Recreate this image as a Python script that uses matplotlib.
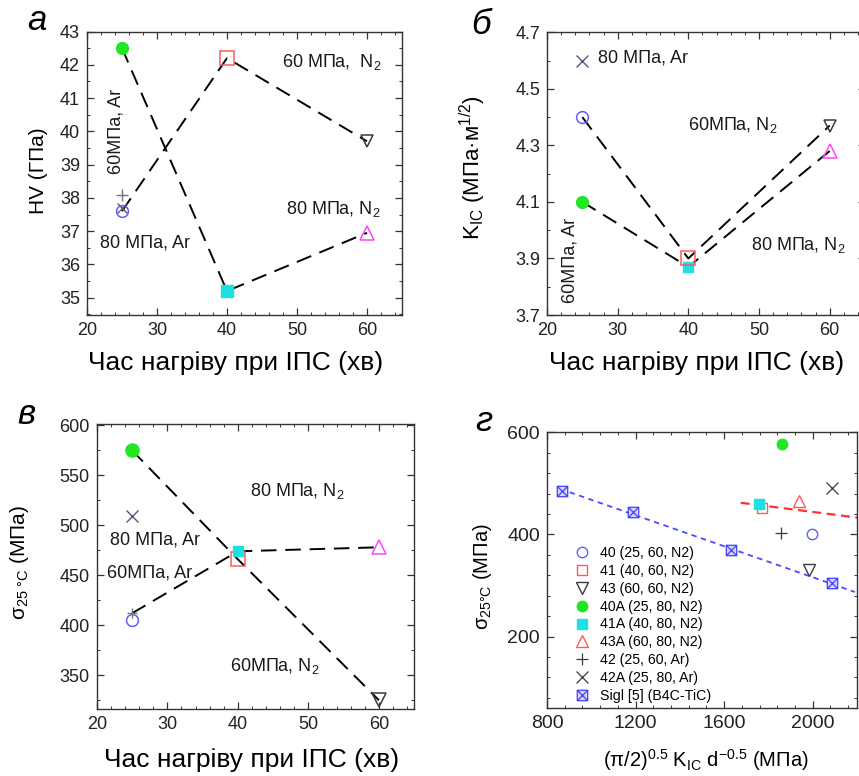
import matplotlib
matplotlib.use("Agg")
import matplotlib.pyplot as plt
import matplotlib.path as mpath
import numpy as np
from matplotlib.ticker import MultipleLocator, AutoMinorLocator, FixedLocator

plt.rcParams['font.family'] = ['Liberation Sans', 'DejaVu Sans']
plt.rcParams['mathtext.fontset'] = 'custom'
plt.rcParams['mathtext.rm'] = 'Liberation Sans'
plt.rcParams['mathtext.it'] = 'Liberation Sans:italic'
plt.rcParams['axes.edgecolor'] = '#333333'
plt.rcParams['axes.linewidth'] = 1.0

# ---- data -------------------------------------------------------------
heat_time = [25, 40, 60]                      # хв

# hardness HV, ГПа
hv_60_n2 = [37.6, 42.2, 39.7]                 # samples 40, 41, 43
hv_80_n2 = [42.5, 35.2, 36.95]                # samples 40A, 41A, 43A
hv_60_ar = 38.1                               # sample 42
hv_80_ar = 37.7                               # sample 42A

# fracture toughness K_IC, МПа·м^1/2
kic_60_n2 = [4.40, 3.90, 4.37]
kic_80_n2 = [4.10, 3.87, 4.28]
kic_80_ar = 4.60
kic_ticks = [3.7, 3.9, 4.1, 4.3, 4.5, 4.7]

# bending strength at 25 °C, МПа
sig_60_n2 = [405, 466, 325]
sig_80_n2 = [575, 474, 478]
sig_60_ar = 412
sig_80_ar = 509

# strength vs (π/2)^0.5 K_IC d^-0.5
d_labels = ['40 (25, 60, N2)', '41 (40, 60, N2)', '43 (60, 60, N2)',
            '40A (25, 80, N2)', '41A (40, 80, N2)', '43A (60, 80, N2)',
            '42 (25, 60, Ar)', '42A (25, 80, Ar)']
d_x = [1996, 1773, 1981, 1860, 1757, 1940, 1857, 2086]
d_y = [401, 452, 330, 578, 459, 466, 403, 490]
sigl_x = [869, 1190, 1630, 2086]
sigl_y = [486, 443, 369, 304]
sigl_label = 'Sigl [5] (B4C-TiC)'
n2_trend_x = [1675, 2200]
n2_trend_y = [462, 433]

# ---- styles -----------------------------------------------------------
C_BLUE = '#5f5fff'
C_RED = '#ff5a5a'
C_GRAY = '#3a3a3a'
C_GREEN = '#22e622'
C_CYAN = '#1fe0e0'
C_MAG = '#ff44ff'
C_PLUS = '#777777'
C_X = '#56567e'

DASH = (0, (8, 4.5))
ms = 8.5

def style_axes(ax, xmaj, xmin_n, ymaj, ymin_n, size=13):
    ax.xaxis.set_major_locator(MultipleLocator(xmaj))
    ax.xaxis.set_minor_locator(AutoMinorLocator(xmin_n))
    if ymaj is not None:
        ax.yaxis.set_major_locator(MultipleLocator(ymaj))
    ax.yaxis.set_minor_locator(AutoMinorLocator(ymin_n))
    ax.tick_params(which='both', direction='in', top=True, right=True,
                   colors='#333333', labelcolor='#222222', labelsize=size)
    ax.tick_params(which='major', length=5, width=0.9, pad=5)
    ax.tick_params(which='minor', length=2.5, width=0.7)

W, H = 859, 776
fig = plt.figure(figsize=(W / 100, H / 100), dpi=100)

def px_axes(x0, y0, x1, y1):
    return fig.add_axes([x0 / W, 1 - y1 / H, (x1 - x0) / W, (y1 - y0) / H])

ann = dict(fontsize=13, color='#1a1a1a')
xlab = 'Час нагріву при ІПС (хв)'
XLAB_SIZE = 19

# ---- а : hardness -----------------------------------------------------
ax = px_axes(87, 31.5, 402, 315)
ax.plot(heat_time, hv_80_n2, color='black', lw=1.4, ls=DASH, zorder=1)
ax.plot(heat_time, hv_60_n2, color='black', lw=1.4, ls=DASH, zorder=1)
ax.plot(heat_time[0], hv_60_n2[0], 'o', mfc='none', mec=C_BLUE, ms=ms, mew=1.1)
ax.plot(heat_time[1], hv_60_n2[1], 's', mfc='none', mec=C_RED, ms=ms + 1, mew=1.1)
ax.plot(heat_time[2], hv_60_n2[2], 'v', mfc='none', mec=C_GRAY, ms=ms, mew=1.1)
ax.plot(heat_time[0], hv_80_n2[0], 'o', color=C_GREEN, ms=ms)
ax.plot(heat_time[1], hv_80_n2[1], 's', color=C_CYAN, ms=ms)
ax.plot(heat_time[2], hv_80_n2[2], '^', mfc='none', mec=C_MAG, ms=ms + 1, mew=1.1)
ax.plot(heat_time[0], hv_60_ar, '+', color=C_PLUS, ms=ms, mew=1.0)
ax.plot(heat_time[0], hv_80_ar, 'x', color=C_X, ms=ms - 1, mew=1.0)
ax.set_xlim(20, 65)
ax.set_ylim(34.48, 43)
style_axes(ax, 10, 5, 1, 2)
ax.text(47.9, 41.92, '60 МПа,  N$_2$', **ann)
ax.text(48.4, 37.52, '80 МПа, N$_2$', **ann)
ax.text(21.8, 36.52, '80 МПа, Ar', **ann)
ax.text(24.2, 40.0, '60МПа, Ar', rotation=90, ha='center', va='center', **ann)
fig.text(236 / W, 1 - 363 / H, xlab, fontsize=XLAB_SIZE, ha='center', va='center')
fig.text(39 / W, 1 - 171 / H, 'HV (ГПа)', fontsize=15, rotation=90,
         ha='center', va='center')
fig.text(37 / W, 1 - 20 / H, 'а', fontsize=25, style='italic',
         ha='center', va='center')

# ---- б : fracture toughness ------------------------------------------
ax = px_axes(547, 32.3, 865, 315)
ax.plot(heat_time, kic_60_n2, color='black', lw=1.4, ls=DASH, zorder=1)
ax.plot(heat_time, kic_80_n2, color='black', lw=1.4, ls=DASH, zorder=1)
ax.plot(heat_time[0], kic_60_n2[0], 'o', mfc='none', mec=C_BLUE, ms=ms, mew=1.1)
ax.plot(heat_time[1], kic_60_n2[1], 's', mfc='none', mec=C_RED, ms=ms + 1, mew=1.1, zorder=4)
ax.plot(heat_time[2], kic_60_n2[2], 'v', mfc='none', mec=C_GRAY, ms=ms, mew=1.1)
ax.plot(heat_time[0], kic_80_n2[0], 'o', color=C_GREEN, ms=ms)
ax.plot(heat_time[1], kic_80_n2[1], 's', color=C_CYAN, ms=ms - 1, zorder=3)
ax.plot(heat_time[2], kic_80_n2[2], '^', mfc='none', mec=C_MAG, ms=ms + 1, mew=1.1)
ax.plot(heat_time[0], kic_80_ar, 'x', color=C_X, ms=ms, mew=1.0)
ax.set_xlim(20, 65)
ax.set_ylim(3.7, 4.7)
style_axes(ax, 10, 5, None, 2)
ax.yaxis.set_major_locator(FixedLocator(kic_ticks))
ax.yaxis.set_major_formatter(plt.FuncFormatter(lambda v, p: f'{v:.1f}'))
ax.text(27.26, 4.592, '80 МПа, Ar', **ann)
ax.text(39.97, 4.354, '60МПа, N$_2$', **ann)
ax.text(48.8, 3.93, '80 МПа, N$_2$', **ann)
ax.text(23.25, 3.892, '60МПа, Ar', rotation=90, ha='center', va='center', **ann)
fig.text(697 / W, 1 - 363 / H, xlab, fontsize=XLAB_SIZE, ha='center', va='center')
fig.text(473 / W, 1 - 168 / H, 'K$_{\\rm IC}$ (МПа·м$^{1/2}$)', fontsize=16,
         rotation=90, ha='center', va='center')
fig.text(481 / W, 1 - 24 / H, 'б', fontsize=25, style='italic',
         ha='center', va='center')

# ---- в : strength vs heating time ------------------------------------
ax = px_axes(96.7, 424.3, 414.3, 709.3)
ax.plot(heat_time, [sig_80_n2[0], sig_60_n2[1], sig_60_n2[2]],
        color='black', lw=1.4, ls=DASH, zorder=1)
ax.plot(heat_time, [sig_60_ar, sig_80_n2[1], sig_80_n2[2]],
        color='black', lw=1.4, ls=DASH, zorder=1)
ax.plot(heat_time[0], sig_60_n2[0], 'o', mfc='none', mec=C_BLUE, ms=ms, mew=1.1)
ax.plot(heat_time[1], sig_60_n2[1], 's', mfc='none', mec=C_RED, ms=ms + 1, mew=1.1)
ax.plot(heat_time[2], sig_60_n2[2], 'v', mfc='none', mec=C_GRAY, ms=ms + 1, mew=1.1)
ax.plot(heat_time[0], sig_80_n2[0], 'o', color=C_GREEN, ms=ms + 1)
ax.plot(heat_time[1], sig_80_n2[1], 's', color=C_CYAN, ms=ms - 1)
ax.plot(heat_time[2], sig_80_n2[2], '^', mfc='none', mec=C_MAG, ms=ms + 1, mew=1.1)
ax.plot(heat_time[0], sig_60_ar, '+', color=C_PLUS, ms=ms - 2, mew=1.0)
ax.plot(heat_time[0], sig_80_ar, 'x', color=C_X, ms=ms, mew=1.0)
ax.set_xlim(20, 65)
ax.set_ylim(316, 601)
style_axes(ax, 10, 5, 50, 2)
ax.text(41.65, 529.7, '80 МПа, N$_2$', **ann)
ax.text(21.9, 480.7, '80 МПа, Ar', **ann)
ax.text(21.4, 448, '60МПа, Ar', **ann)
ax.text(38.9, 354, '60МПа, N$_2$', **ann)
fig.text(252 / W, 1 - 760 / H, xlab, fontsize=XLAB_SIZE, ha='center', va='center')
fig.text(20 / W, 1 - 563 / H, 'σ$_{\\rm 25\\ °C}$ (МПа)', fontsize=15,
         rotation=90, ha='center', va='center')
fig.text(26 / W, 1 - 414 / H, 'в', fontsize=25, style='italic',
         ha='center', va='center')

# ---- г : strength vs toughness parameter -----------------------------
ax = px_axes(547, 432.3, 857, 708)
coef = np.polyfit(sigl_x, sigl_y, 1)
fit_x = np.array([min(sigl_x) - 9, 2190])
ax.plot(fit_x, np.polyval(coef, fit_x), color='#4a4aff', lw=1.3,
        ls=(0, (3, 2.5)), zorder=1)
ax.plot(n2_trend_x, n2_trend_y, color='#ff3030', lw=1.6,
        ls=(0, (4, 2.5)), zorder=1)

d_styles = [
    dict(marker='o', mfc='none', mec=C_BLUE, ms=7.5, mew=1.0, color=C_BLUE),
    dict(marker='s', mfc='none', mec=C_RED, ms=7.5, mew=1.0, color=C_RED),
    dict(marker='v', mfc='none', mec=C_GRAY, ms=8, mew=1.0, color=C_GRAY),
    dict(marker='o', mfc=C_GREEN, mec=C_GREEN, ms=7.5, color=C_GREEN),
    dict(marker='s', mfc=C_CYAN, mec=C_CYAN, ms=7.5, color=C_CYAN),
    dict(marker='^', mfc='none', mec=C_RED, ms=8, mew=1.0, color=C_RED),
    dict(marker='+', mec=C_GRAY, ms=8, mew=0.9, color=C_GRAY),
    dict(marker='x', mec=C_GRAY, ms=8, mew=0.9, color=C_GRAY),
]
order = [0, 2, 3, 5, 6, 7, 1, 4]
handles = [None] * len(d_labels)
for i in order:
    (h,) = ax.plot(d_x[i], d_y[i], ls='none', label=d_labels[i],
                   zorder=3, **d_styles[i])
    handles[i] = h

box_x = mpath.Path(
    [(-1, -1), (1, -1), (1, 1), (-1, 1), (-1, -1),
     (-1, -1), (1, 1), (-1, 1), (1, -1), (0, 0)],
    [mpath.Path.MOVETO, mpath.Path.LINETO, mpath.Path.LINETO,
     mpath.Path.LINETO, mpath.Path.CLOSEPOLY,
     mpath.Path.MOVETO, mpath.Path.LINETO,
     mpath.Path.MOVETO, mpath.Path.LINETO, mpath.Path.MOVETO])
(hs,) = ax.plot(sigl_x, sigl_y, ls='none', marker=box_x, ms=7.5,
                mfc='#d4d4ff', mec='#4040ff', mew=0.9, zorder=3,
                label=sigl_label)
handles.append(hs)

ax.set_xlim(800, 2200)
ax.set_ylim(60, 600)
style_axes(ax, 400, 5, 200, 5, size=14)
ax.legend(handles=handles, loc='upper left', bbox_to_anchor=(0.088, 0.587),
          frameon=False, fontsize=10.2, handlelength=1.1, handletextpad=0.75,
          labelspacing=0.27, borderaxespad=0, borderpad=0)
fig.text(706 / W, 1 - 760 / H,
         '(π/2)$^{0.5}$ K$_{\\rm IC}$ d$^{-0.5}$ (МПа)', fontsize=14.5,
         ha='center', va='center')
fig.text(482 / W, 1 - 577 / H, 'σ$_{\\rm 25°C}$ (МПа)', fontsize=14.5,
         rotation=90, ha='center', va='center')
fig.text(484 / W, 1 - 422 / H, 'г', fontsize=25, style='italic',
         ha='center', va='center')

fig.savefig('out.png', dpi=100)
